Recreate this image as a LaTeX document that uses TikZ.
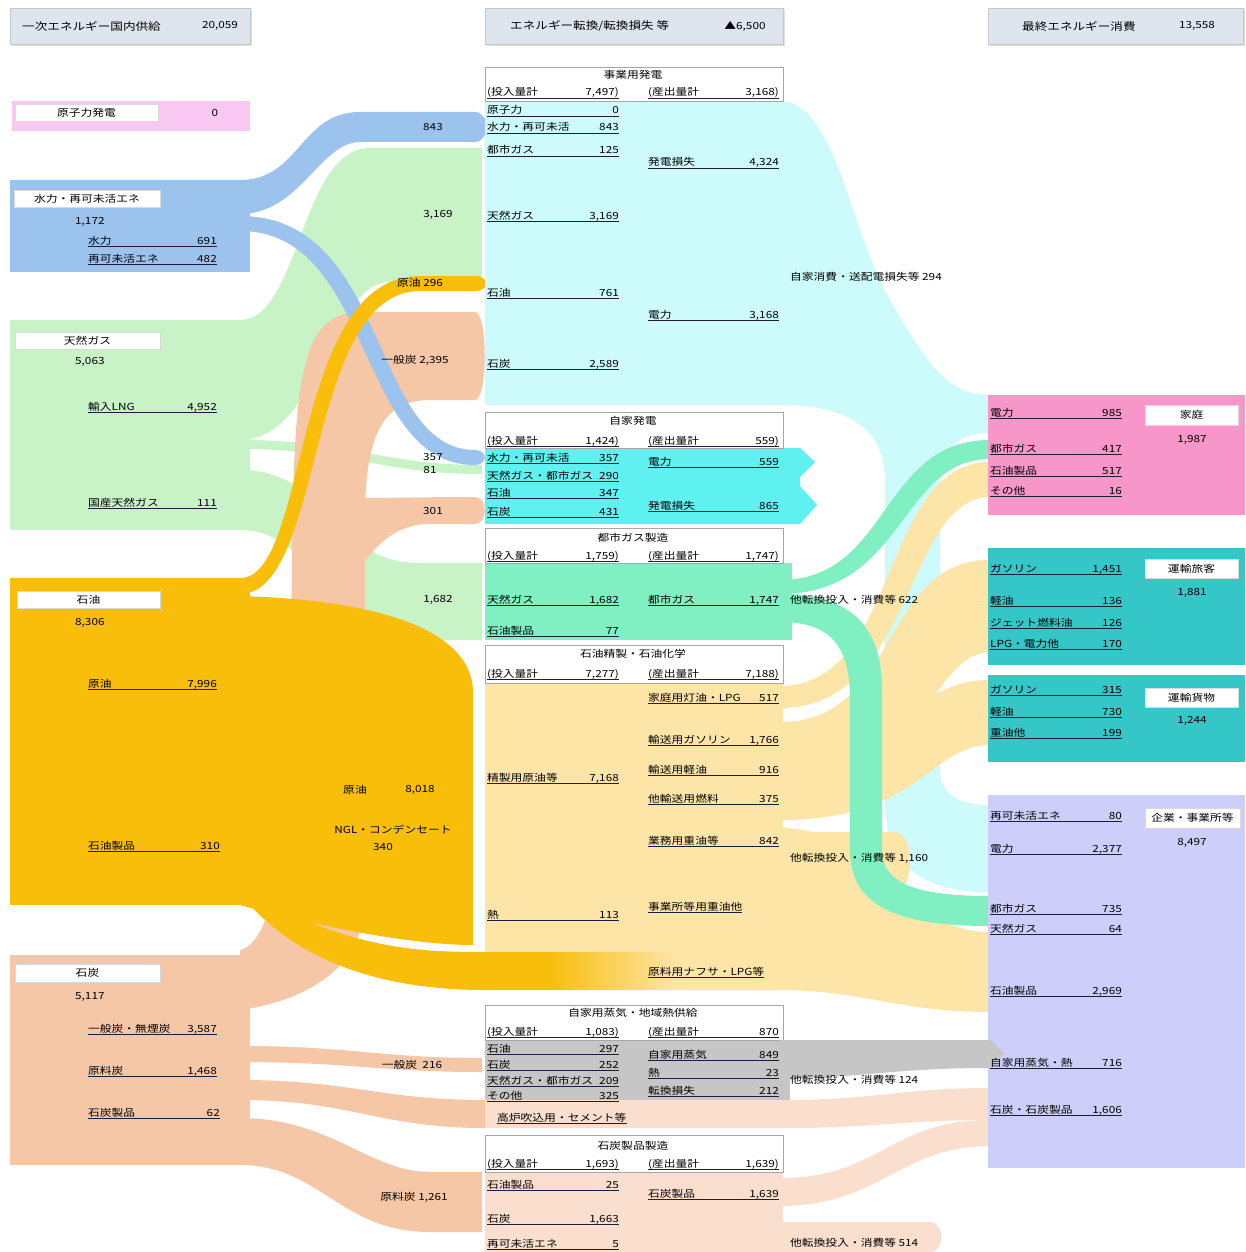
\documentclass[tikz,border=0pt]{standalone}
\usepackage{fontspec}
\newfontfamily\jp[FakeStretch=1.2]{Noto Sans CJK JP}
\definecolor{cNuc}{HTML}{F8C8F2}
\definecolor{cHyd}{HTML}{9CC3EE}
\definecolor{cGas}{HTML}{C8F3C6}
\definecolor{cOil}{HTML}{F9BE0A}
\definecolor{cOilL}{HTML}{FDE5A8}
\definecolor{cCoal}{HTML}{F5C7A7}
\definecolor{cCoalL}{HTML}{FBDFCE}
\definecolor{cCyL}{HTML}{CDFAFA}
\definecolor{cCyB}{HTML}{5FF0F0}
\definecolor{cMint}{HTML}{80EFC2}
\definecolor{cGry}{HTML}{C6C6C6}
\definecolor{cHome}{HTML}{F796C8}
\definecolor{cTeal}{HTML}{35C6C8}
\definecolor{cLav}{HTML}{CECEFA}
\definecolor{cHdr}{HTML}{DFE5EF}
\definecolor{cUl}{HTML}{1E1E38}
\pgfdeclarehorizontalshading{naphtha}{100bp}{color(0bp)=(cOil); color(53bp)=(cOil); color(65bp)=(cOilL); color(100bp)=(cOilL)}
\newcounter{txn}
% label ____ number, with underline; args: x-left, x-right, y-centre, label, number
\newcommand\itm[5]{%
  \stepcounter{txn}%
  \node[lbl,anchor=base west] (ia\arabic{txn}) at (#1,#3+4) {#4};
  \node[lbl,anchor=base east] (ib\arabic{txn}) at (#2,#3+4) {#5};
  \draw[uline] (ia\arabic{txn}.base west |- 0,#3+6) -- (#2,#3+6);}
% underlined label without a number
\newcommand\itmu[3]{%
  \stepcounter{txn}%
  \node[lbl,anchor=base west] (iu\arabic{txn}) at (#1,#2+4) {#3};
  \draw[uline] ([yshift=-2pt]iu\arabic{txn}.base west) -- ([yshift=-2pt]iu\arabic{txn}.base east);}
% plain text
\newcommand\txt[4]{%
  \stepcounter{txn}%
  \node[lbl,anchor=#3] (it\arabic{txn}) at (#1,#2) {#4};}
\begin{document}
\begin{tikzpicture}[x=1pt,y=-1pt,
  lbl/.style={font=\jp\fontsize{9.8}{10}\selectfont, inner sep=0pt, text=black},
  uline/.style={line width=0.9pt, draw=cUl},
  blk/.style={inner sep=0pt, outer sep=0pt, anchor=north west, draw=none},
  wlab/.style={blk, fill=white, draw=black!15, line width=0.4pt, font=\jp\fontsize{9.8}{10}\selectfont},
  mhead/.style={blk, fill=white, draw=black!35, line width=0.5pt},
  tophead/.style={blk, fill=cHdr, draw=black!22, line width=0.5pt, minimum height=36pt}]
\useasboundingbox (0,0) rectangle (1245,1252);
\fill[white] (0,0) rectangle (1245,1252);

% ---------- top headers ----------
\foreach \xa/\w in {10/240, 485/298, 988/255}
  \fill[black!12] (\xa+2,10) rectangle ++(\w,36);
\node[tophead, minimum width=240pt] (h1) at (10,8) {};
\node[tophead, minimum width=298pt] (h2) at (485,8) {};
\node[tophead, minimum width=255pt] (h3) at (988,8) {};
\node[lbl, anchor=west, font=\jp\fontsize{10.5}{11}\selectfont] (h1t) at (22,26) {一次エネルギー国内供給};
\node[lbl, anchor=center] (h1n) at (220,26) {20,059};
\node[lbl, anchor=west, font=\jp\fontsize{10.5}{11}\selectfont] (h2t) at (510,26) {エネルギー転換/転換損失 等};
\node[lbl, anchor=center] (h2n) at (745,26) {▲6,500};
\node[lbl, anchor=west, font=\jp\fontsize{10.5}{11}\selectfont] (h3t) at (1022,26) {最終エネルギー消費};
\node[lbl, anchor=center] (h3n) at (1197,26) {13,558};

% ---------- primary supply -> conversion flows ----------
% natural gas
\fill[cGas] (240,320) .. controls (300,320) and (300,148) .. (370,148) -- (482,148) -- (482,282) -- (390,282) .. controls (330,282) and (320,440) .. (240,440) -- cycle;
\fill[cGas] (240,440) .. controls (350,440) and (380,465) .. (482,465) -- (482,474) .. controls (380,474) and (350,449) .. (240,449) -- cycle;
\fill[cGas] (240,470) .. controls (330,470) and (330,563) .. (420,563) -- (482,563) -- (482,640) -- (420,640) .. controls (320,640) and (320,530) .. (240,530) -- cycle;
% hydro / renewables to utility power
\fill[cHyd] (240,180) .. controls (300,180) and (300,112) .. (360,112) -- (475,112) .. controls (490,112) and (490,142) .. (475,142) -- (360,142) .. controls (320,142) and (300,214) .. (240,214) -- cycle;
% coal trunk
\fill[cCoal] (240,950) .. controls (282,940) and (290,800) .. (292,560) .. controls (294,380) and (300,312) .. (360,312) -- (475,312) .. controls (488,312) and (488,400) .. (475,400) -- (430,400) .. controls (380,400) and (365,440) .. (365,520) -- (365,900) .. controls (365,965) and (310,1000) .. (240,1010) -- cycle;
\fill[cCoal] (360,498) .. controls (400,498) and (420,497) .. (475,497) .. controls (488,497) and (488,524) .. (475,524) -- (430,524) .. controls (400,524) and (380,540) .. (362,565) -- cycle;
\fill[cCoal] (240,1046) .. controls (350,1046) and (380,1058) .. (482,1058) -- (482,1072) .. controls (380,1072) and (350,1062) .. (240,1062) -- cycle;
\fill[cCoal] (240,1080) .. controls (350,1080) and (380,1100) .. (485,1100) -- (485,1128) .. controls (380,1128) and (350,1100) .. (240,1100) -- cycle;
\fill[cCoal] (240,1118) .. controls (330,1118) and (370,1172) .. (430,1172) -- (482,1172) -- (482,1232) -- (430,1232) .. controls (340,1232) and (320,1165) .. (240,1165) -- cycle;
% hydro / renewables to autoproducers
\fill[cHyd] (240,216) .. controls (390,216) and (370,450) .. (475,450) .. controls (488,450) and (488,465) .. (475,465) .. controls (355,465) and (375,231) .. (240,231) -- cycle;
% crude oil to utility power
\fill[cOil] (240,578) .. controls (310,578) and (290,276) .. (420,276) -- (475,276) .. controls (490,276) and (490,291) .. (475,291) -- (420,291) .. controls (305,291) and (325,594) .. (240,594) -- cycle;
% crude oil and NGL to refining
\fill[cOil] (240,596) .. controls (380,600) and (470,630) .. (473,690) -- (473,945) .. controls (420,945) and (330,930) .. (240,905) -- cycle;
% feedstock band along the bottom of the refinery
\shade[shading=naphtha] (260,900) .. controls (360,950) and (420,952) .. (485,952) -- (783,952) -- (783,990) -- (485,990) .. controls (380,990) and (300,960) .. (250,905) -- cycle;

% ---------- primary supply boxes ----------
\node[blk, fill=cNuc, minimum width=238pt, minimum height=30pt] (nuc) at (12,101) {};
\node[wlab, minimum width=143pt, minimum height=17pt] (nucl) at (15,104) {原子力発電};
\txt{215}{113}{center}{0}
\node[blk, fill=cHyd, minimum width=240pt, minimum height=92pt] (hyd) at (10,180) {};
\node[wlab, minimum width=146pt, minimum height=17pt] (hydl) at (14,190) {水力・再可未活エネ};
\txt{75}{222}{west}{1,172}
\node[blk, fill=cGas, minimum width=240pt, minimum height=210pt] (gas) at (10,320) {};
\node[wlab, minimum width=145pt, minimum height=17pt] (gasl) at (15,332) {天然ガス};
\txt{75}{362}{west}{5,063}
\node[blk, fill=cOil, minimum width=240pt, minimum height=327pt] (oil) at (10,578) {};
\node[wlab, minimum width=143pt, minimum height=17pt] (oill) at (17,591) {石油};
\txt{75}{623}{west}{8,306}
\node[blk, fill=cCoal, minimum width=240pt, minimum height=210pt] (coal) at (10,955) {};
\node[wlab, minimum width=145pt, minimum height=18pt] (coall) at (15,964) {石炭};
\txt{75}{997}{west}{5,117}

% ---------- conversion -> final consumption flows ----------
% utility power output
\fill[cCyL] (780,101) .. controls (835,101) and (850,230) .. (890,300) .. controls (930,370) and (950,395) .. (990,395) -- (990,433) .. controls (955,433) and (940,450) .. (940,490) -- (940,770) .. controls (940,795) and (960,805) .. (990,805) -- (990,892) .. controls (915,892) and (885,860) .. (885,800) -- (885,480) .. controls (885,430) and (850,405) .. (780,405) -- cycle;
% refinery products
\fill[cOilL] (780,686) .. controls (900,686) and (880,462) .. (990,462) -- (990,497) .. controls (905,497) and (915,708) .. (780,708) -- cycle;
\fill[cOilL] (780,722) .. controls (900,722) and (880,560) .. (990,560) -- (990,652) .. controls (930,652) and (920,790) .. (780,790) -- cycle;
\fill[cOilL] (780,790) .. controls (900,790) and (890,680) .. (990,680) -- (990,745) .. controls (930,745) and (920,820) .. (780,820) -- cycle;
\fill[cOilL] (780,828) .. controls (880,828) and (900,932) .. (990,932) -- (990,1012) .. controls (900,1012) and (860,990) .. (780,990) -- cycle;
\fill[cOilL] (780,832) -- (895,832) .. controls (915,832) and (915,892) .. (895,892) -- (780,892) -- cycle;
% city gas output
\fill[cMint] (780,580) .. controls (890,580) and (880,440) .. (990,440) -- (990,459) .. controls (900,459) and (905,594) .. (780,594) -- cycle;
\fill[cMint] (780,594) .. controls (850,594) and (882,625) .. (882,690) -- (882,850) .. controls (882,885) and (920,896) .. (990,896) -- (990,926) .. controls (895,926) and (850,905) .. (850,850) -- (850,700) .. controls (850,645) and (830,622) .. (780,622) -- cycle;
% coal products
\fill[cCoalL] (780,1100) .. controls (880,1100) and (900,1088) .. (990,1088) -- (990,1120) .. controls (900,1120) and (880,1128) .. (780,1128) -- cycle;
\fill[cCoalL] (780,1178) .. controls (880,1178) and (890,1120) .. (990,1120) -- (990,1146) .. controls (900,1146) and (880,1206) .. (780,1206) -- cycle;
\fill[cCoalL] (780,1222) -- (930,1222) .. controls (945,1222) and (945,1252) .. (930,1252) -- (780,1252) -- cycle;

% ---------- conversion column ----------
\fill[cCyL] (485,100) rectangle (783,405);
\fill[cCyB] (485,448) -- (800,448) -- (815,462) -- (800,477) -- (800,486) -- (817,505) -- (800,524) -- (485,524) -- cycle;
\fill[cMint] (485,563) rectangle (792,640);
\fill[cOilL] (485,683) rectangle (783,952);
\fill[cGry] (485,1040) rectangle (790,1100);
\fill[cCoalL] (485,1100) rectangle (783,1128);
\fill[cCoalL] (485,1172) rectangle (783,1252);
\node[mhead, minimum width=298pt, minimum height=34pt] (pw) at (485,67) {};
\node[mhead, minimum width=298pt, minimum height=36pt] (ap) at (485,412) {};
\node[mhead, minimum width=298pt, minimum height=35pt] (cg) at (485,528) {};
\node[mhead, minimum width=298pt, minimum height=38pt] (rf) at (485,645) {};
\node[mhead, minimum width=298pt, minimum height=35pt] (st) at (485,1005) {};
\node[mhead, minimum width=298pt, minimum height=37pt] (ck) at (485,1135) {};

% ---------- final consumption boxes ----------
\node[blk, fill=cHome, minimum width=257pt, minimum height=120pt] (home) at (988,395) {};
\node[wlab, minimum width=93pt, minimum height=20pt] (homel) at (1145,405) {家庭};
\txt{1192}{440}{center}{1,987}
\node[blk, fill=cTeal, minimum width=257pt, minimum height=117pt] (pass) at (988,548) {};
\node[wlab, minimum width=93pt, minimum height=19pt] (passl) at (1145,559) {運輸旅客};
\txt{1192}{593}{center}{1,881}
\node[blk, fill=cTeal, minimum width=257pt, minimum height=87pt] (frt) at (988,675) {};
\node[wlab, minimum width=93pt, minimum height=19pt] (frtl) at (1145,688) {運輸貨物};
\txt{1192}{721}{center}{1,244}
\node[blk, fill=cLav, minimum width=257pt, minimum height=373pt] (ind) at (988,795) {};
\node[wlab, minimum width=95pt, minimum height=20pt] (indl) at (1145,808) {企業・事業所等};
\txt{1192}{843}{center}{8,497}
% steam output (tip runs into the box)
\fill[cGry] (780,1040) -- (990,1040) -- (1004,1054) -- (990,1068) .. controls (890,1068) and (870,1078) .. (780,1078) -- cycle;

% ---------- primary supply texts ----------
\itm{88}{217}{240}{水力}{691}
\itm{88}{217}{258}{再可未活エネ}{482}
\itm{88}{217}{406}{輸入LNG}{4,952}
\itm{88}{217}{502}{国産天然ガス}{111}
\itm{88}{217}{683}{原油}{7,996}
\itm{88}{220}{845}{石油製品}{310}
\itm{88}{217}{1028}{一般炭・無煙炭}{3,587}
\itm{88}{217}{1070}{原料炭}{1,468}
\itm{88}{220}{1112}{石炭製品}{62}

% ---------- flow labels (left) ----------
\txt{433}{127}{center}{843}
\txt{438}{215}{center}{3,169}
\txt{420}{283}{center}{原油\ 296}
\txt{415}{360}{center}{一般炭\ 2,395}
\txt{433}{457}{center}{357}
\txt{430}{470}{center}{81}
\txt{433}{511}{center}{301}
\txt{438}{600}{center}{1,682}
\txt{355}{790}{center}{原油}
\txt{420}{790}{center}{8,018}
\txt{393}{830}{center}{NGL・コンデンセート}
\txt{383}{847}{center}{340}
\txt{412}{1065}{center}{一般炭\ \ 216}
\txt{414}{1197}{center}{原料炭\ 1,261}

% ---------- utility power ----------
\txt{633}{75}{center}{事業用発電}
\itm{487}{619}{92}{(投入量計}{7,497)}
\itm{648}{779}{92}{(産出量計}{3,168)}
\itm{487}{619}{110}{原子力}{0}
\itm{487}{619}{127}{水力・再可未活}{843}
\itm{487}{619}{150}{都市ガス}{125}
\itm{487}{619}{215}{天然ガス}{3,169}
\itm{487}{619}{292}{石油}{761}
\itm{487}{619}{363}{石炭}{2,589}
\itm{648}{779}{162}{発電損失}{4,324}
\itm{648}{779}{314}{電力}{3,168}
% ---------- autoproducers ----------
\txt{633}{421}{center}{自家発電}
\itm{487}{619}{440}{(投入量計}{1,424)}
\itm{648}{779}{440}{(産出量計}{559)}
\itm{487}{619}{457}{水力・再可未活}{357}
\itm{487}{619}{475}{天然ガス・都市ガス}{290}
\itm{487}{619}{492}{石油}{347}
\itm{487}{619}{511}{石炭}{431}
\itm{648}{779}{461}{電力}{559}
\itm{648}{779}{505}{発電損失}{865}
% ---------- city gas ----------
\txt{633}{538}{center}{都市ガス製造}
\itm{487}{619}{555}{(投入量計}{1,759)}
\itm{648}{779}{555}{(産出量計}{1,747)}
\itm{487}{619}{599}{天然ガス}{1,682}
\itm{487}{619}{630}{石油製品}{77}
\itm{648}{779}{599}{都市ガス}{1,747}
% ---------- refining ----------
\txt{633}{654}{center}{石油精製・石油化学}
\itm{487}{619}{673}{(投入量計}{7,277)}
\itm{648}{779}{673}{(産出量計}{7,188)}
\itm{487}{619}{777}{精製用原油等}{7,168}
\itm{487}{619}{914}{熱}{113}
\itm{648}{779}{697}{家庭用灯油・LPG}{517}
\itm{648}{779}{739}{輸送用ガソリン}{1,766}
\itm{648}{779}{769}{輸送用軽油}{916}
\itm{648}{779}{798}{他輸送用燃料}{375}
\itm{648}{779}{840}{業務用重油等}{842}
\itmu{648}{906}{事業所等用重油他}
\itmu{648}{971}{原料用ナフサ・LPG等}
% ---------- steam / district heat ----------
\txt{633}{1013}{center}{自家用蒸気・地域熱供給}
\itm{487}{619}{1031}{(投入量計}{1,083)}
\itm{648}{779}{1031}{(産出量計}{870}
\itm{487}{619}{1048}{石油}{297}
\itm{487}{619}{1064}{石炭}{252}
\itm{487}{619}{1080}{天然ガス・都市ガス}{209}
\itm{487}{619}{1095}{その他}{325}
\itm{648}{779}{1054}{自家用蒸気}{849}
\itm{648}{779}{1072}{熱}{23}
\itm{648}{779}{1090}{転換損失}{212}
\itmu{497}{1117}{高炉吹込用・セメント等}
% ---------- coke ----------
\txt{633}{1146}{center}{石炭製品製造}
\itm{487}{619}{1163}{(投入量計}{1,693)}
\itm{648}{779}{1163}{(産出量計}{1,639)}
\itm{487}{619}{1184}{石油製品}{25}
\itm{487}{619}{1218}{石炭}{1,663}
\itm{487}{619}{1243}{再可未活エネ}{5}
\itm{648}{779}{1193}{石炭製品}{1,639}

% ---------- flow labels (right) ----------
\txt{790}{277}{west}{自家消費・送配電損失等\ 294}
\txt{790}{600}{west}{他転換投入・消費等\ 622}
\txt{790}{858}{west}{他転換投入・消費等\ 1,160}
\txt{790}{1080}{west}{他転換投入・消費等\ 124}
\txt{790}{1243}{west}{他転換投入・消費等\ 514}

% ---------- final consumption texts ----------
\itm{990}{1122}{412}{電力}{985}
\itm{990}{1122}{448}{都市ガス}{417}
\itm{990}{1122}{470}{石油製品}{517}
\itm{990}{1122}{490}{その他}{16}
\itm{990}{1122}{568}{ガソリン}{1,451}
\itm{990}{1122}{600}{軽油}{136}
\itm{990}{1122}{622}{ジェット燃料油}{126}
\itm{990}{1122}{643}{LPG・電力他}{170}
\itm{990}{1122}{689}{ガソリン}{315}
\itm{990}{1122}{711}{軽油}{730}
\itm{990}{1122}{732}{重油他}{199}
\itm{990}{1122}{815}{再可未活エネ}{80}
\itm{990}{1122}{848}{電力}{2,377}
\itm{990}{1122}{908}{都市ガス}{735}
\itm{990}{1122}{928}{天然ガス}{64}
\itm{990}{1122}{990}{石油製品}{2,969}
\itm{990}{1122}{1062}{自家用蒸気・熱}{716}
\itm{990}{1122}{1109}{石炭・石炭製品}{1,606}
\end{tikzpicture}
\end{document}
